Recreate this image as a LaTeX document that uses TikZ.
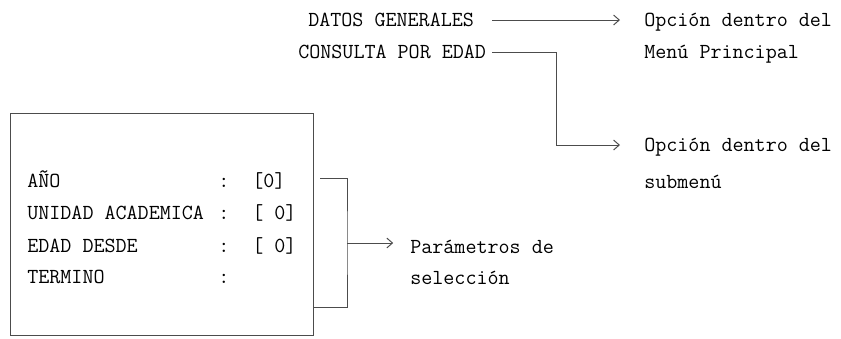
\documentclass[tikz,border=0pt]{standalone}
\usetikzlibrary{arrows.meta}
\tikzset{
  txt/.style={anchor=west, inner sep=0pt, text height=9.3pt, text depth=0pt,
    font=\ttfamily\fontsize{15.25}{18}\selectfont, text=black},
  link/.style={black!70, line width=0.7pt},
  arr/.style={link, -{Straight Barb[length=4pt,width=7pt]}},
}
\begin{document}
\begin{tikzpicture}[x=0.025cm, y=-0.025cm]
        \useasboundingbox (0,0) rectangle (841,338);
        % Menu options
        \node[txt] (datos) at (308,20) {DATOS GENERALES};
        \node[txt] (consulta) at (298,52) {CONSULTA POR EDAD};
        \node[txt] (menuA) at (644,20) {Opción dentro del};
        \node[txt] (menuB) at (644,52) {Menú Principal};
        \node[txt] (subA) at (644,145) {Opción dentro del};
        \node[txt] (subB) at (644,182) {submenú};
        
        % Screen with the parameters
        \draw[link] (10,113) rectangle (313,335);
        \node[txt] (anio) at (27,181) {AÑO};
        \node[txt] (unidad) at (27,213) {UNIDAD ACADEMICA};
        \node[txt] (edad) at (27,246) {EDAD DESDE};
        \node[txt] (termino) at (27,277) {TERMINO};
        \node[txt] (sepA) at (218,181) {:};
        \node[txt] (sepB) at (218,213) {:};
        \node[txt] (sepC) at (218,246) {:};
        \node[txt] (sepD) at (218,277) {:};
        \node[txt] (valA) at (252,181) {[0]};
        \node[txt] (valB) at (252,213) {[ 0]};
        \node[txt] (valC) at (252,246) {[ 0]};
        \node[txt] (parA) at (410,247) {Parámetros de};
        \node[txt] (parB) at (410,278) {selección};
        
        % Arrows to the notes
        \draw[arr, shorten <=0.45cm, shorten >=0.6cm] (datos.east) -- (datos.east -| menuA.west);
        \draw[arr, shorten <=0.15cm, shorten >=0.6cm] (consulta.east) -- ++(70,0) |- (subA.west);
        
        % Bracket round the parameters
        \coordinate (brTop) at (320,178);
        \coordinate (brBot) at (313,307);
        \coordinate (brJoin) at (347,243);
        \draw[link] (brTop) -| (brJoin) |- (brBot);
        \draw[arr, shorten >=0.42cm] (brJoin) -- (brJoin -| parA.west);
    \end{tikzpicture}
\end{document}
